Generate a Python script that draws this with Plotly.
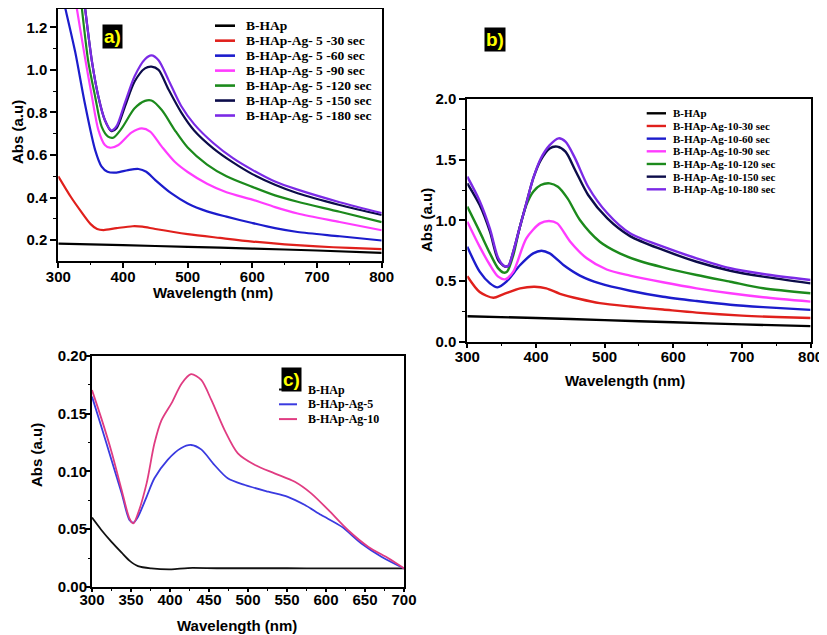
import plotly.graph_objects as go

# page size and the browser's default body margin (the figure starts 8px in)
PAGE_W, PAGE_H, OFF = 827, 635, 8
FW, FH = PAGE_W - OFF, PAGE_H - OFF

# ---------------- Panel a data ----------------
a_names = ["B-HAp", "B-HAp-Ag- 5 -30 sec", "B-HAp-Ag- 5 -60 sec", "B-HAp-Ag- 5 -90 sec",
           "B-HAp-Ag- 5 -120 sec", "B-HAp-Ag- 5 -150 sec", "B-HAp-Ag- 5 -180 sec"]
a_black_x = [300, 400, 500, 600, 700, 800]
a_black_y = [0.183, 0.176, 0.168, 0.160, 0.151, 0.140]
a_30_x = [300, 320, 335, 350, 360, 370, 390, 415, 430, 450, 500, 550, 600, 650, 700, 750, 800]
a_30_y = [0.50, 0.40, 0.335, 0.275, 0.252, 0.247, 0.256, 0.265, 0.263, 0.252, 0.228, 0.210, 0.193,
          0.180, 0.170, 0.163, 0.157]
a_60_x = [300, 310, 326, 341, 357, 367, 376, 390, 408, 424, 436, 450, 475, 500, 530, 560, 600, 635,
          670, 735, 800]
a_60_y = [1.43, 1.30, 1.086, 0.843, 0.623, 0.545, 0.521, 0.517, 0.529, 0.534, 0.521, 0.482, 0.419,
          0.372, 0.335, 0.310, 0.280, 0.256, 0.238, 0.218, 0.198]
a_90_x = [300, 320, 328, 341, 352, 362, 372, 380, 393, 413, 429, 442, 460, 480, 500, 530, 560, 600,
          635, 670, 735, 800]
a_90_y = [1.85, 1.45, 1.30, 1.062, 0.874, 0.717, 0.647, 0.634, 0.647, 0.705, 0.725, 0.710, 0.639,
          0.568, 0.520, 0.465, 0.425, 0.390, 0.355, 0.325, 0.285, 0.246]
a_120_x = [300, 320, 336, 346, 357, 367, 377, 385, 398, 418, 434, 444, 460, 480, 500, 530, 560, 600,
           635, 670, 735, 800]
a_120_y = [2.2, 1.7, 1.30, 1.046, 0.874, 0.733, 0.686, 0.681, 0.725, 0.819, 0.854, 0.856, 0.811,
           0.717, 0.635, 0.555, 0.500, 0.450, 0.410, 0.380, 0.333, 0.284]
a_150_x = [300, 330, 341, 352, 362, 372, 382, 390, 403, 418, 434, 444, 455, 470, 490, 510, 540, 570,
           600, 635, 670, 735, 800]
a_150_y = [2.3, 1.58, 1.30, 1.04, 0.874, 0.764, 0.712, 0.725, 0.827, 0.945, 1.007, 1.015, 1.000,
           0.910, 0.800, 0.715, 0.630, 0.565, 0.510, 0.460, 0.420, 0.365, 0.318]
a_180_x = [300, 330, 341, 352, 362, 372, 382, 390, 403, 418, 434, 444, 455, 470, 490, 510, 540, 570,
           600, 635, 670, 735, 800]
a_180_y = [2.3, 1.58, 1.30, 1.04, 0.874, 0.764, 0.715, 0.735, 0.845, 0.970, 1.050, 1.068, 1.045,
           0.955, 0.830, 0.745, 0.655, 0.585, 0.530, 0.475, 0.437, 0.378, 0.327]
a_x = [a_black_x, a_30_x, a_60_x, a_90_x, a_120_x, a_150_x, a_180_x]
a_y = [a_black_y, a_30_y, a_60_y, a_90_y, a_120_y, a_150_y, a_180_y]

# ---------------- Panel b data ----------------
b_names = ["B-HAp", "B-HAp-Ag-10-30 sec", "B-HAp-Ag-10-60 sec", "B-HAp-Ag-10-90 sec",
           "B-HAp-Ag-10-120 sec", "B-HAp-Ag-10-150 sec", "B-HAp-Ag-10-180 sec"]
b_black_x = [300, 400, 500, 600, 700, 800]
b_black_y = [0.210, 0.195, 0.178, 0.160, 0.143, 0.128]
b_30_x = [300, 318, 338, 352, 377, 398, 415, 435, 464, 493, 537, 585, 634, 700, 750, 800]
b_30_y = [0.54, 0.41, 0.362, 0.39, 0.44, 0.453, 0.44, 0.395, 0.352, 0.318, 0.29, 0.265, 0.24,
          0.215, 0.203, 0.195]
b_60_x = [300, 318, 333, 344, 357, 377, 396, 408, 420, 440, 464, 493, 537, 585, 634, 683, 731, 800]
b_60_y = [0.783, 0.577, 0.481, 0.448, 0.495, 0.632, 0.728, 0.75, 0.728, 0.632, 0.545, 0.48, 0.42,
          0.37, 0.335, 0.305, 0.285, 0.262]
b_90_x = [300, 318, 333, 345, 355, 367, 386, 406, 419, 431, 450, 474, 503, 537, 585, 634, 683, 731,
          800]
b_90_y = [0.989, 0.783, 0.632, 0.536, 0.514, 0.577, 0.852, 0.975, 0.995, 0.975, 0.824, 0.687, 0.595,
          0.545, 0.49, 0.44, 0.399, 0.366, 0.33]
b_120_x = [300, 318, 333, 345, 353, 358, 367, 376, 386, 396, 407, 420, 432, 446, 464, 493, 522, 551,
           585, 634, 683, 731, 800]
b_120_y = [1.113, 0.907, 0.728, 0.604, 0.569, 0.577, 0.714, 0.934, 1.126, 1.236, 1.291, 1.305, 1.277,
           1.181, 1.003, 0.824, 0.728, 0.665, 0.613, 0.55, 0.494, 0.44, 0.399]
b_150_x = [300, 318, 333, 345, 355, 360, 367, 376, 386, 396, 407, 420, 431, 443, 457, 476, 504, 537,
           585, 634, 683, 731, 800]
b_150_y = [1.305, 1.126, 0.907, 0.673, 0.618, 0.626, 0.742, 0.934, 1.14, 1.346, 1.497, 1.593, 1.607,
           1.566, 1.415, 1.209, 1.016, 0.87, 0.756, 0.659, 0.585, 0.536, 0.481]
b_180_x = [300, 318, 333, 345, 355, 360, 367, 376, 386, 396, 407, 420, 433, 443, 457, 476, 504, 537,
           585, 634, 683, 731, 800]
b_180_y = [1.36, 1.16, 0.93, 0.69, 0.62, 0.626, 0.742, 0.934, 1.14, 1.346, 1.51, 1.62, 1.676, 1.648,
           1.511, 1.277, 1.058, 0.893, 0.783, 0.687, 0.605, 0.558, 0.508]
b_x = [b_black_x, b_30_x, b_60_x, b_90_x, b_120_x, b_150_x, b_180_x]
b_y = [b_black_y, b_30_y, b_60_y, b_90_y, b_120_y, b_150_y, b_180_y]

# ---------------- Panel c data ----------------
c_names = ["B-HAp", "B-HAp-Ag-5", "B-HAp-Ag-10"]
c_black_x = [300, 312, 325, 338, 348, 359, 376, 402, 423, 460, 500, 550, 600, 650, 700]
c_black_y = [0.060, 0.0493, 0.039, 0.0297, 0.0228, 0.018, 0.0161, 0.0153, 0.0164, 0.0162, 0.0162,
             0.0162, 0.0161, 0.0161, 0.0161]
c_ag5_x = [300, 312, 325, 338, 348, 353, 359, 370, 380, 397, 414, 427, 440, 457, 474, 496, 526, 551,
           573, 594, 620, 645, 671, 700]
c_ag5_y = [0.1646, 0.1386, 0.1098, 0.081, 0.058, 0.0556, 0.0608, 0.078, 0.094, 0.11, 0.12, 0.1228,
           0.119, 0.1055, 0.094, 0.0882, 0.0824, 0.078, 0.0709, 0.0622, 0.0522, 0.0378, 0.0262, 0.0161]
c_ag10_x = [300, 312, 325, 338, 348, 353, 359, 370, 380, 389, 402, 415, 427, 440, 453, 470, 487, 509,
            534, 560, 581, 603, 628, 654, 680, 700]
c_ag10_y = [0.1703, 0.1458, 0.117, 0.0839, 0.0594, 0.055, 0.0637, 0.0896, 0.124, 0.144, 0.159, 0.176,
            0.184, 0.179, 0.1617, 0.1357, 0.1156, 0.1055, 0.0983, 0.091, 0.081, 0.0666, 0.0493,
            0.0349, 0.0248, 0.0161]
c_x = [c_black_x, c_ag5_x, c_ag10_x]
c_y = [c_black_y, c_ag5_y, c_ag10_y]

# ---------------- styles ----------------
ab_colors = ["#000000", "#e0201c", "#1c1ccc", "#ff3cff", "#1c8a1c", "#0c0c4a", "#7b2ae6"]
c_colors = ["#111111", "#3a3ae0", "#e03c82"]


def fx(p):
    return (p - OFF) / FW


def fy(p):
    return 1 - (p - OFF) / FH


fig = go.Figure()
for name, xs, ys, col in zip(a_names, a_x, a_y, ab_colors):
    fig.add_trace(go.Scatter(x=xs, y=ys, name=name, mode="lines", xaxis="x", yaxis="y",
                             line=dict(color=col, width=2.2, shape="spline", smoothing=0.8),
                             showlegend=False))
for name, xs, ys, col in zip(b_names, b_x, b_y, ab_colors):
    fig.add_trace(go.Scatter(x=xs, y=ys, name=name, mode="lines", xaxis="x2", yaxis="y2",
                             line=dict(color=col, width=2.4, shape="spline", smoothing=0.8),
                             showlegend=False))
for name, xs, ys, col in zip(c_names, c_x, c_y, c_colors):
    fig.add_trace(go.Scatter(x=xs, y=ys, name=name, mode="lines", xaxis="x3", yaxis="y3",
                             line=dict(color=col, width=1.8, shape="spline", smoothing=0.8),
                             showlegend=False))

TICKFONT = dict(family="Liberation Sans", size=15, color="black", weight="bold")


def ax(domain, rng, dtick, minor_dtick, anchor, fmt=None, tick0=None, ticklen=6, standoff=0):
    d = dict(domain=domain, range=rng, dtick=dtick, anchor=anchor, showline=True, linewidth=2,
             linecolor="black", mirror=True, ticks="outside", ticklen=ticklen, tickwidth=1.5,
             tickcolor="black", showgrid=False, zeroline=False, tickfont=TICKFONT,
             automargin=False, ticklabelstandoff=standoff,
             minor=dict(ticks="outside", ticklen=max(2, ticklen // 2), tickwidth=1.2,
                        tickcolor="black", dtick=minor_dtick, showgrid=False))
    if fmt:
        d["tickformat"] = fmt
    if tick0 is not None:
        d["tick0"] = tick0
    return d


fig.update_layout(
    width=FW, height=FH, margin=dict(l=0, r=0, t=0, b=0, autoexpand=False),
    paper_bgcolor="white", plot_bgcolor="white",
    xaxis=ax([fx(58.3), fx(381.7)], [300, 800], 100, 50, "y", ticklen=5, standoff=-4),
    yaxis=ax([fy(260.7), fy(9)], [0.103, 1.286], 0.2, 0.1, "x", ".1f", 0.2),
    xaxis2=ax([fx(467.3), fx(810.6)], [300, 800], 100, 50, "y2", ticklen=4, standoff=-4),
    yaxis2=ax([fy(341.7), fy(99)], [0, 2.0], 0.5, 0.25, "x2", ".1f", 0),
    xaxis3=ax([fx(92), fx(404)], [300, 700], 50, 25, "y3", ticklen=3, standoff=-5),
    yaxis3=ax([fy(587), fy(355.7)], [0, 0.2], 0.05, 0.025, "x3", ".2f", 0, ticklen=4, standoff=-4),
)

TITLEFONT = dict(family="Liberation Sans", size=15, color="black", weight="bold")
annotations = []
# axis titles
for (x, y) in [(213, 292), (625, 380), (237, 625)]:
    annotations.append(dict(x=fx(x), y=fy(y), xref="paper", yref="paper", text="Wavelength (nm)",
                            showarrow=False, font=TITLEFONT, xanchor="center", yanchor="middle"))
for (x, y) in [(18, 132), (426, 220), (37, 455)]:
    annotations.append(dict(x=fx(x), y=fy(y), xref="paper", yref="paper", text="Abs (a.u)",
                            textangle=-90, showarrow=False, font=TITLEFONT, xanchor="center",
                            yanchor="middle"))

shapes = []
LEGFONT = "Liberation Serif"


def legend(names, colors, x0, x1, xt, y0, step, size, lw):
    for i, (n, c) in enumerate(zip(names, colors)):
        yy = y0 + i * step
        shapes.append(dict(type="line", xref="paper", yref="paper", x0=fx(x0), x1=fx(x1),
                           y0=fy(yy), y1=fy(yy), line=dict(color=c, width=lw)))
        annotations.append(dict(x=fx(xt), y=fy(yy), xref="paper", yref="paper", text=n,
                                showarrow=False, xanchor="left", yanchor="middle",
                                font=dict(family=LEGFONT, size=size, color="black",
                                          weight="bold")))


legend(a_names, ab_colors, 215, 235, 244, 25.7, 14.97, 13.5, 2.6)
legend(b_names, ab_colors, 646.7, 666, 671, 113.3, 12.67, 11, 2.4)
legend(c_names, c_colors, 279, 297, 306, 389.5, 14.8, 12, 2)

# panel labels
for (t, x, y) in [("a)", 112.5, 36), ("b)", 495, 39.5), ("c)", 291.7, 379.7)]:
    annotations.append(dict(x=fx(x), y=fy(y), xref="paper", yref="paper", text=t, showarrow=False,
                            xanchor="center", yanchor="middle", bgcolor="black", borderpad=1,
                            font=dict(family="Liberation Sans", size=19, color="#ffff00",
                                      weight="bold")))

fig.update_layout(annotations=annotations, shapes=shapes)
fig.write_html("out.html")
